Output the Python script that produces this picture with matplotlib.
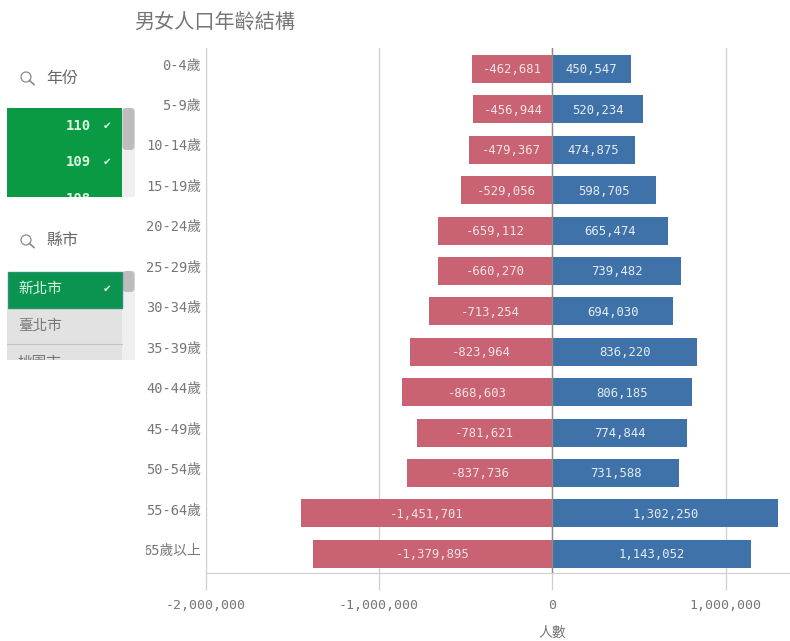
import matplotlib.pyplot as plt
from matplotlib.patches import Circle, FancyBboxPatch, Rectangle

plt.rcParams["font.family"] = ["DejaVu Sans Mono", "Noto Sans CJK TC"]

age_groups = ["0-4歲", "5-9歲", "10-14歲", "15-19歲", "20-24歲", "25-29歲", "30-34歲",
              "35-39歲", "40-44歲", "45-49歲", "50-54歲", "55-64歲", "65歲以上"]
female = [-462681, -456944, -479367, -529056, -659112, -660270, -713254,
          -823964, -868603, -781621, -837736, -1451701, -1379895]
male = [450547, 520234, 474875, 598705, 665474, 739482, 694030,
        836220, 806185, 774844, 731588, 1302250, 1143052]
x_ticks = [-2000000, -1000000, 0, 1000000]

RED = "#c96272"
BLUE = "#3f72a8"
GREEN = "#0a9a43"
TEXT = "#767676"
W, H = 790, 641

fig = plt.figure(figsize=(W / 100, H / 100), dpi=100)

# chart area, placed by pixels
ax = fig.add_axes([206 / W, 1 - 573 / H, 584 / W, 525 / H])
rows = list(range(len(age_groups)))
ax.barh(rows, female, height=0.69, color=RED, zorder=2)
ax.barh(rows, male, height=0.69, color=BLUE, zorder=2)
ax.set_xlim(-2000000, 1371000)
ax.set_ylim(12.475, -0.52)

for i in rows:
    ax.text(female[i] / 2, i + 0.02, f"{female[i]:,}", color="#f2e4e6", fontsize=8.8,
            ha="center", va="center", zorder=4)
    ax.text(male[i] / 2, i + 0.02, f"{male[i]:,}", color="#e4ecf5", fontsize=8.8,
            ha="center", va="center", zorder=4)

ax.set_xticks(x_ticks)
ax.set_xticklabels([f"{v:,}" for v in x_ticks], color=TEXT, fontsize=9.5)
ax.set_yticks([])
ax.tick_params(axis="x", length=12, width=0.9, color="#cfcfcf", pad=7)
ax.set_xlabel("人數", color=TEXT, fontsize=10)
ax.xaxis.set_label_coords(0.5925, -0.1)
ax.xaxis.grid(True, color="#cfcfcf", linewidth=0.9, zorder=1)
ax.axvline(0, color="#8f8a8a", linewidth=1, zorder=3)
for side in ["top", "right"]:
    ax.spines[side].set_visible(False)
for side in ["left", "bottom"]:
    ax.spines[side].set_color("#cfcfcf")

# sidebar and titles drawn in pixel coordinates
ui = fig.add_axes([0, 0, 1, 1], zorder=5)
ui.set_xlim(0, W)
ui.set_ylim(H, 0)
ui.axis("off")
ui.patch.set_alpha(0)

ui.text(134, 22, "男女人口年齡結構", color="#767676", fontsize=14.5, va="center", family=["Noto Sans CJK TC"])

# y labels, the last one is cut off by the chart frame
label_clip = Rectangle((146, 40), 60, 530, transform=ui.transData)
for i, name in enumerate(age_groups):
    t = ui.text(201, 65.5 + 40.45 * i, name, color=TEXT, fontsize=9.9, ha="right", va="center", clip_on=True)
    t.set_clip_path(label_clip)


def search_label(y, label):
    ui.add_patch(Circle((26, y - 1), 5, fill=False, ec="#8a8a8a", lw=0.9))
    ui.plot([29.5, 34], [y + 2.5, y + 6.5], color="#8a8a8a", lw=1.2)
    ui.text(46, y, label, color="#666666", fontsize=11.5, va="center", family=["Noto Sans CJK TC"])


search_label(78, "年份")
search_label(241, "縣市")

# year list
ui.add_patch(Rectangle((122, 108), 13, 89, color="#efefef", lw=0))
ui.add_patch(FancyBboxPatch((122.5, 108), 12, 42, boxstyle="round,pad=0,rounding_size=4", color="#bdbdbd", lw=0))
year_box = Rectangle((7, 108), 115, 89, color=GREEN, lw=0)
ui.add_patch(year_box)
for y, year, check in [(126, "110", True), (162, "109", True), (199, "108", False)]:
    t = ui.text(91, y, year, color="#d9f5e2", fontsize=10, ha="right", va="center", fontweight="bold", clip_on=True)
    t.set_clip_path(year_box)
    if check:
        ui.text(107, y, "✔", color="#d9f5e2", fontsize=7.5, ha="center", va="center", family=["DejaVu Sans"])

# county list
ui.add_patch(Rectangle((122, 271), 13, 89, color="#efefef", lw=0))
ui.add_patch(FancyBboxPatch((122.5, 271), 12, 21, boxstyle="round,pad=0,rounding_size=4", color="#bdbdbd", lw=0))
ui.add_patch(Rectangle((7, 308), 115, 52, color="#e2e2e2", lw=0))
ui.plot([7, 122], [343.5, 343.5], color="#c4c4c4", lw=0.8)
ui.add_patch(Rectangle((7.5, 271.5), 114, 36, fc="#0b9450", ec="#2b8f7a", lw=1))
ui.text(18, 289, "新北市", color="#d9f5e2", fontsize=10.5, va="center", family=["Noto Sans CJK TC"])
ui.text(107, 289, "✔", color="#d9f5e2", fontsize=7.5, ha="center", va="center", family=["DejaVu Sans"])
ui.text(18, 326, "臺北市", color="#777777", fontsize=10.5, va="center", family=["Noto Sans CJK TC"])
county_clip = Rectangle((7, 345), 115, 15, transform=ui.transData)
t = ui.text(18, 363, "桃園市", color="#777777", fontsize=10.5, va="center", family=["Noto Sans CJK TC"], clip_on=True)
t.set_clip_path(county_clip)

fig.savefig("out.png", dpi=100)
